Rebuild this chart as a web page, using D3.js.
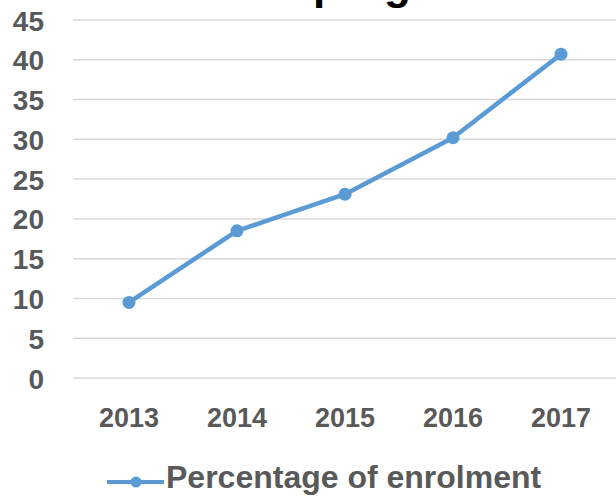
<!DOCTYPE html>
<head>
  <meta charset="utf-8">
  <title>Percentage of enrolment</title>
  <script src="https://d3js.org/d3.v7.min.js"></script>
  <style>
    body {
      margin: 0;
      background: #fff;
    }
    svg {
      font-family: "Liberation Sans", Arial, sans-serif;
    }
    .tick-label {
      font-size: 27px;
      font-weight: bold;
      fill: #595959;
    }
    .y-label {
      font-size: 28px;
    }
    .grid-line {
      stroke: #d9d9d9;
      stroke-width: 1.5px;
    }
    .series-line {
      fill: none;
      stroke: #5b9bd5;
      stroke-width: 4.5px;
      stroke-linejoin: round;
    }
    .series-dot {
      fill: #5b9bd5;
    }
    .legend-text {
      font-size: 32px;
      font-weight: bold;
      fill: #595959;
    }
    .title {
      font-size: 44px;
      font-weight: bold;
      fill: #000;
    }
  </style>
</head>

<body>
  <script>
    var years = ["2013", "2014", "2015", "2016", "2017"];
    var enrolment = [9.5, 18.5, 23.1, 30.2, 40.7];
    var yTicks = [0, 5, 10, 15, 20, 25, 30, 35, 40, 45];
    var seriesName = "Percentage of enrolment";

    var width = 616,
        height = 496;

    var svg = d3.select("body").append("svg")
        .attr("width", width)
        .attr("height", height);

    var x = d3.scaleBand()
        .domain(years)
        .range([75, 615]);

    var y = d3.scaleLinear()
        .domain([0, 45])
        .range([378, 20]);

    // title, cut off at the top as in the original: only descenders show
    svg.append("text")
        .attr("class", "title")
        .attr("x", 313)
        .attr("y", -1)
        .text("progress");

    // grid lines
    svg.append("g").selectAll("line")
        .data(yTicks)
      .enter().append("line")
        .attr("class", "grid-line")
        .attr("x1", 73)
        .attr("x2", 616)
        .attr("y1", function(d) { return y(d); })
        .attr("y2", function(d) { return y(d); });

    // y axis labels
    var yAxis = d3.axisLeft(y).tickValues(yTicks).tickSize(0).tickPadding(0);
    var yAxisGroup = svg.append("g")
        .attr("transform", "translate(44,0)")
        .call(yAxis);
    yAxisGroup.select(".domain").remove();
    yAxisGroup.selectAll("text")
        .attr("class", "tick-label y-label")
        .attr("dy", "0.36em")
        .attr("font-size", null)
        .attr("font-family", null);

    // x axis labels
    var xAxis = d3.axisBottom(x).tickSize(0).tickPadding(0);
    var xAxisGroup = svg.append("g")
        .attr("transform", "translate(0,427)")
        .call(xAxis);
    xAxisGroup.select(".domain").remove();
    xAxisGroup.selectAll("text")
        .attr("class", "tick-label")
        .attr("dy", 0)
        .attr("y", 0)
        .attr("font-size", null)
        .attr("font-family", null);

    var points = years.map(function(d, i) { return [d, enrolment[i]]; });

    var line = d3.line()
        .x(function(d) { return x(d[0]) + x.bandwidth() / 2; })
        .y(function(d) { return y(d[1]); });

    svg.append("path")
        .datum(points)
        .attr("class", "series-line")
        .attr("d", line);

    svg.append("g").selectAll("circle")
        .data(points)
      .enter().append("circle")
        .attr("class", "series-dot")
        .attr("r", 6.5)
        .attr("cx", function(d) { return x(d[0]) + x.bandwidth() / 2; })
        .attr("cy", function(d) { return y(d[1]); });

    // legend
    var legend = svg.append("g");
    legend.append("line")
        .attr("x1", 107)
        .attr("x2", 164)
        .attr("y1", 482)
        .attr("y2", 482)
        .attr("stroke", "#5b9bd5")
        .attr("stroke-width", 4);
    legend.append("circle")
        .attr("class", "series-dot")
        .attr("cx", 136)
        .attr("cy", 482)
        .attr("r", 5.5);
    legend.append("text")
        .attr("class", "legend-text")
        .attr("x", 166)
        .attr("y", 488)
        .text(seriesName);
  </script>
</body>
